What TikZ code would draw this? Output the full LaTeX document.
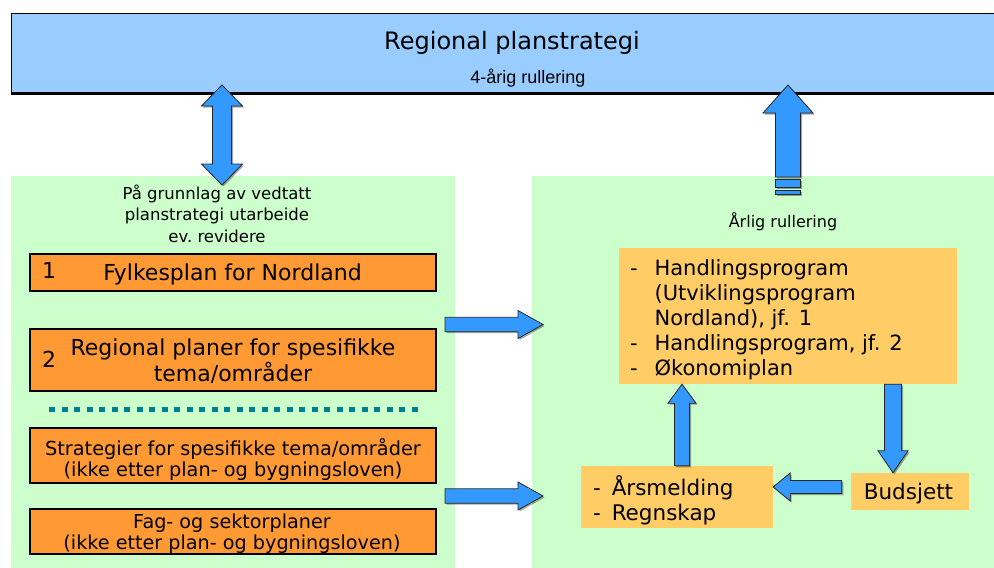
\documentclass[tikz,border=0pt]{standalone}
\usepackage{fontspec}
\setmainfont{DejaVu Sans}
\newfontfamily\arialfam{Liberation Sans}
\usetikzlibrary{calc,shadows}
\definecolor{topblue}{RGB}{153,204,255}
\definecolor{panelgreen}{RGB}{204,255,204}
\definecolor{boxorange}{RGB}{255,153,51}
\definecolor{boxyellow}{RGB}{255,204,102}
\definecolor{arrowblue}{RGB}{51,153,255}
\definecolor{dotteal}{RGB}{0,128,140}
\tikzset{
  fsz/.style 2 args={font=\fontsize{#1}{#2}\selectfont},
  panel/.style={fill=panelgreen, draw=none, inner sep=0pt, outer sep=0pt},
  lbox/.style={fill=boxorange, draw=black, line width=1.3pt, inner sep=0pt},
  rbox/.style={fill=boxyellow, draw=none, inner sep=0pt},
  txt/.style={inner sep=0pt, outer sep=0pt},
  arrowlook/.style={fill=arrowblue, draw=black!85, line width=0.8pt, line join=miter,
    drop shadow={shadow xshift=1.5pt, shadow yshift=-1.5pt, fill=black, opacity=0.35}},
  blockarrow/.style n args={3}{arrowlook, to path={
    let \p1=(\tikztostart), \p2=(\tikztotarget),
        \n1={veclen(\x2-\x1,\y2-\y1)},
        \n3={(\x2-\x1)/\n1}, \n4={(\y2-\y1)/\n1} in
    ({\x1-(\n4)*(#1)}, {\y1+(\n3)*(#1)})
    -- ({\x2-(\n3)*(#3)-(\n4)*(#1)}, {\y2-(\n4)*(#3)+(\n3)*(#1)})
    -- ({\x2-(\n3)*(#3)-(\n4)*(#2)}, {\y2-(\n4)*(#3)+(\n3)*(#2)})
    -- (\p2)
    -- ({\x2-(\n3)*(#3)+(\n4)*(#2)}, {\y2-(\n4)*(#3)-(\n3)*(#2)})
    -- ({\x2-(\n3)*(#3)+(\n4)*(#1)}, {\y2-(\n4)*(#3)-(\n3)*(#1)})
    -- ({\x1+(\n4)*(#1)}, {\y1-(\n3)*(#1)})
    -- cycle}},
  dblarrow/.style n args={3}{arrowlook, to path={
    let \p1=(\tikztostart), \p2=(\tikztotarget),
        \n1={veclen(\x2-\x1,\y2-\y1)},
        \n3={(\x2-\x1)/\n1}, \n4={(\y2-\y1)/\n1} in
    (\p1)
    -- ({\x1+(\n3)*(#3)-(\n4)*(#2)}, {\y1+(\n4)*(#3)+(\n3)*(#2)})
    -- ({\x1+(\n3)*(#3)-(\n4)*(#1)}, {\y1+(\n4)*(#3)+(\n3)*(#1)})
    -- ({\x2-(\n3)*(#3)-(\n4)*(#1)}, {\y2-(\n4)*(#3)+(\n3)*(#1)})
    -- ({\x2-(\n3)*(#3)-(\n4)*(#2)}, {\y2-(\n4)*(#3)+(\n3)*(#2)})
    -- (\p2)
    -- ({\x2-(\n3)*(#3)+(\n4)*(#2)}, {\y2-(\n4)*(#3)-(\n3)*(#2)})
    -- ({\x2-(\n3)*(#3)+(\n4)*(#1)}, {\y2-(\n4)*(#3)-(\n3)*(#1)})
    -- ({\x1+(\n3)*(#3)+(\n4)*(#1)}, {\y1+(\n4)*(#3)-(\n3)*(#1)})
    -- ({\x1+(\n3)*(#3)+(\n4)*(#2)}, {\y1+(\n4)*(#3)-(\n3)*(#2)})
    -- cycle}},
}
\begin{document}
\begin{tikzpicture}[x=1pt, y=-1pt]
\useasboundingbox (0,0) rectangle (994,568);
\fill[white] (0,0) rectangle (994,568);

% panels
\node[panel, minimum width=444pt, minimum height=392pt] (lp) at (233,372) {};
\node[panel, minimum width=470pt, minimum height=392pt] (rp) at (767,372) {};

% top box
\node[fill=topblue, draw=none, inner sep=0pt, outer sep=0pt, minimum width=990pt, minimum height=82pt] (top) at (506,54) {};
\draw[line width=1pt] (top.north east) -- (top.north west) -- (top.south west);
\draw[line width=3pt] ($(top.south west)+(0,-1.2)$) -- ($(top.south east)+(0,-1.2)$);
\node[txt, anchor=base, fsz={24}{28}] (ttitle) at (512,49) {Regional planstrategi};
\node[txt, anchor=base, font=\arialfam\fontsize{18}{21}\selectfont] (tsub) at (528,83) {4-årig rullering};

% left panel text
\node[txt, anchor=north, fsz={16.5}{21.3}] (lhead) at (217,184.5)
  {\begin{tabular}{@{}c@{}}På grunnlag av vedtatt\\planstrategi utarbeide\\ev.\ revidere\end{tabular}};

% left boxes
\node[lbox, minimum width=406pt, minimum height=37pt] (b1) at (233,272.5) {};
\node[txt, anchor=base, fsz={22}{25}] (b1t) at (232.5,280.7) {Fylkesplan for Nordland};
\node[txt, anchor=base west, fsz={22}{25}] (b1n) at (42,278) {1};

\node[lbox, minimum width=406pt, minimum height=62pt] (b2) at (233,360) {};
\node[txt, anchor=north, fsz={22}{25}] (b2t) at (233,337.5)
  {\begin{tabular}{@{}c@{}}Regional planer for spesifikke\\tema/områder\end{tabular}};
\node[txt, anchor=base west, fsz={22}{25}] (b2n) at (42,367) {2};

\draw[dotteal, line width=5pt, dash pattern=on 6pt off 6.5pt] (49,409) -- (418,409);

\node[lbox, minimum width=406pt, minimum height=55pt] (b3) at (233,455.5) {};
\node[txt, anchor=north, fsz={19.3}{20}] (b3t) at (233,438.7)
  {\begin{tabular}{@{}c@{}}Strategier for spesifikke tema/områder\\(ikke etter plan- og bygningsloven)\end{tabular}};

\node[lbox, minimum width=406pt, minimum height=45pt] (b4) at (233,531.5) {};
\node[txt, anchor=north, fsz={19.2}{21.7}] (b4t) at (232,513.1)
  {\begin{tabular}{@{}c@{}}Fag- og sektorplaner\\(ikke etter plan- og bygningsloven)\end{tabular}};

% right panel
\node[txt, anchor=base, fsz={16}{19}] (rhead) at (783,227) {Årlig rullering};

\node[rbox, minimum width=338pt, minimum height=136pt] (hp) at (788,316) {};
\node[txt, anchor=north west, fsz={21}{25}] (hpt) at (630,257.5)
  {\begin{tabular}{@{}l@{\hspace{17pt}}l@{}}
   -&Handlingsprogram\\
    &(Utviklingsprogram\\
    &Nordland), jf. 1\\
   -&Handlingsprogram, jf. 2\\
   -&Økonomiplan
   \end{tabular}};

\node[rbox, minimum width=192pt, minimum height=62pt] (ars) at (677,497) {};
\node[txt, anchor=north west, fsz={21.5}{25}] (arst) at (593,475.5)
  {\begin{tabular}{@{}l@{\hspace{11pt}}l@{}}
   -&Årsmelding\\
   -&Regnskap
   \end{tabular}};

\node[rbox, minimum width=118pt, minimum height=37pt] (bud) at (910,491.5) {};
\node[txt, anchor=base, fsz={21.5}{25}] (budt) at (908.5,499) {Budsjett};

% connector coordinates
\coordinate (dtop) at (222,85);
\coordinate (dbot) at (222,185);
\coordinate (rubot) at (788,177);
\coordinate (rutop) at (788,85);
\coordinate (r1s) at (445,324.5);
\coordinate (r1e) at (543,324.5);
\coordinate (r2s) at (445,496);
\coordinate (r2e) at (543,496);
\coordinate (ua) at ($(ars.north)+(5,0)$);
\coordinate (dn) at ($(bud.north)+(-17,0)$);
\coordinate (la) at ($(ars.east)+(0,-10)$);
\coordinate (lb) at ($(bud.west)+(-9,0)$);

% arrows
\draw[dblarrow={9.5pt}{20.5pt}{21pt}] (dbot) to (dtop);
\draw[blockarrow={12.5pt}{25pt}{28pt}] (rubot) to (rutop);
\draw[arrowlook] ($(rubot)+(-12.5,2.3)$) rectangle ($(rubot)+(12.5,10.3)$);
\draw[arrowlook] ($(rubot)+(-12.5,13)$) rectangle ($(rubot)+(12.5,17)$);
\draw[blockarrow={7.2pt}{14pt}{25pt}] (r1s) to (r1e);
\draw[blockarrow={7.2pt}{14pt}{25pt}] (r2s) to (r2e);
\draw[blockarrow={7.5pt}{14pt}{19pt}] (ua) to (ua |- hp.south);
\draw[blockarrow={8.5pt}{15pt}{22pt}] (dn |- hp.south) to (dn);
\draw[blockarrow={6.5pt}{14pt}{17pt}] (lb |- la) to (la);
\end{tikzpicture}
\end{document}
